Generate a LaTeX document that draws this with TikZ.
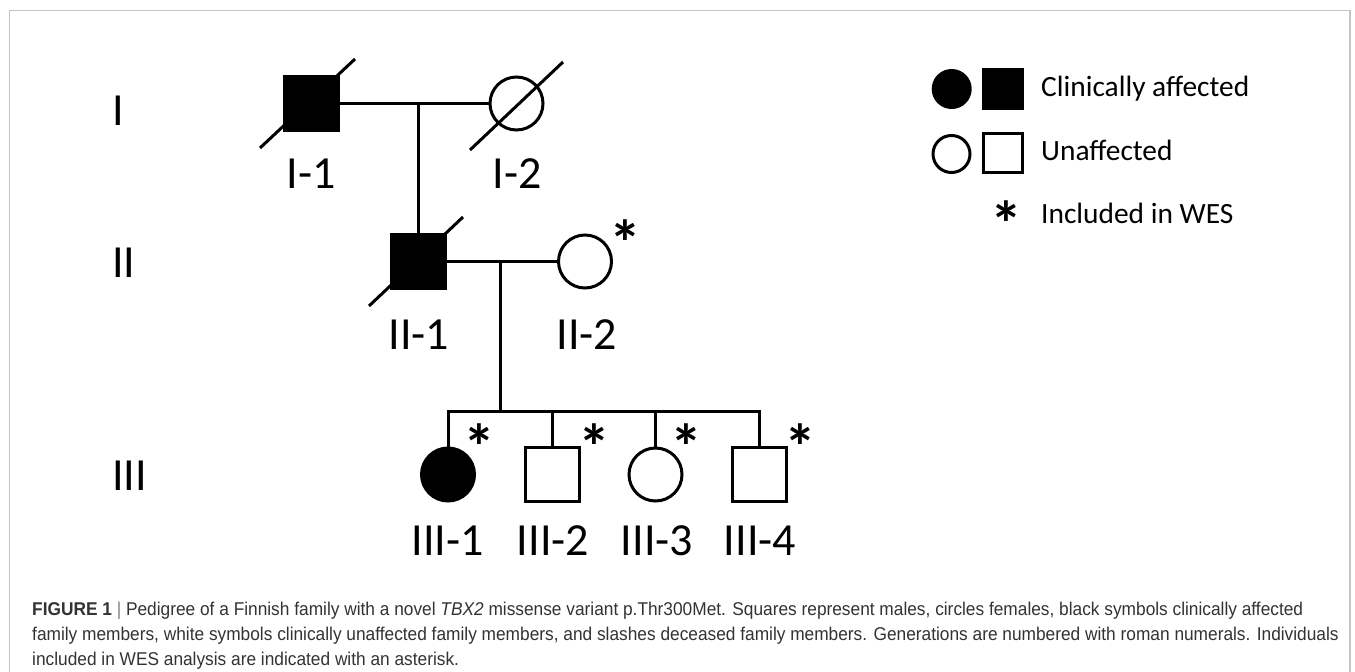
\documentclass[tikz,border=0pt]{standalone}
\usepackage{fontspec}
\setmainfont{Carlito}
\newfontfamily\capfont{Liberation Sans}
\usetikzlibrary{calc}
\definecolor{framec}{HTML}{C4C4C4}
\definecolor{capc}{HTML}{333333}
\newsavebox\caplinebox
\newlength\caplinewd
\begin{document}
\sbox\caplinebox{\capfont\fontsize{18.5}{18.5}\selectfont\textbf{FIGURE 1} | Pedigree of a Finnish family with a novel \textit{TBX2} missense variant p.Thr300Met. Squares represent males, circles females, black symbols clinically affected}%
\setlength\caplinewd{\wd\caplinebox}%
\pgfmathsetmacro\capsc{1271/\caplinewd}%
\begin{tikzpicture}[x=1pt,y=-1pt,
  ln/.style={line width=3pt},
  male/.style={draw, line width=3pt, rectangle, minimum size=54pt, inner sep=0pt},
  female/.style={draw, line width=3pt, circle, minimum size=53pt, inner sep=0pt},
  lmale/.style={draw, line width=3pt, rectangle, minimum size=39pt, inner sep=0pt},
  lfemale/.style={draw, line width=3pt, circle, minimum size=37pt, inner sep=0pt},
  aff/.style={fill=black},
  lab/.style={font=\fontsize{46}{46}\selectfont, anchor=base, inner sep=0pt},
  gen/.style={font=\fontsize{46}{46}\selectfont, anchor=base west, inner sep=0pt},
  ast/.style={font=\fontsize{64}{64}\selectfont\bfseries, anchor=base, inner sep=0pt},
  leg/.style={font=\fontsize{29.4}{29.4}\selectfont, anchor=base west, inner sep=0pt},
  capt/.style={font=\capfont\fontsize{18.5}{18.5}\selectfont, text=capc, anchor=base west, inner sep=0pt}]
\useasboundingbox (0,0) rectangle (1355,672);
\fill[white] (0,0) rectangle (1355,672);
\draw[framec, line width=1.5pt] (9.5,690) -- (9.5,10.5) -- (1350,10.5) -- (1350,690);

% individuals
\node[male,aff] (I1) at (311.5,103.5) {};
\node[female] (I2) at (516.5,103.5) {};
\node[male,aff] (II1) at (418.5,261.5) {};
\node[female] (II2) at (585,261.5) {};
\node[female,aff] (III1) at (448,474.5) {};
\node[male] (III2) at (552,474.5) {};
\node[female] (III3) at (655.5,474.5) {};
\node[male] (III4) at (759,474.5) {};

% deceased slashes
\draw[ln] ($(I1)+(-51.5,44.5)$) -- ($(I1)+(43.5,-44.5)$);
\draw[ln] ($(I2)+(-46.5,46.5)$) -- ($(I2)+(46.5,-41.5)$);
\draw[ln] ($(II1)+(-49.5,44.5)$) -- ($(II1)+(44.5,-44.5)$);

% connectors
\draw[ln] (I1.east) -- (I2.west);
\coordinate (m1) at (II1.north |- I1.east);
\draw[ln] (m1) -- (II1.north);
\draw[ln] (II1.east) -- (II2.west);
\coordinate (m2) at (500,261.5);
\coordinate (s) at (500,411);
\draw[ln] (m2) -- (s);
\draw[ln] (III1.north) -- (III1.north |- s) -- (III4.north |- s) -- (III4.north);
\draw[ln] (III2.north |- s) -- (III2.north);
\draw[ln] (III3.north |- s) -- (III3.north);

% labels
\node[lab] (lI1) at (311,188) {I-1};
\node[lab] (lI2) at (517,188) {I-2};
\node[lab] (lII1) at (419,349) {II-1};
\node[lab] (lII2) at (587,349) {II-2};
\node[lab] (lIII1) at (447.5,555) {III-1};
\node[lab] (lIII2) at (553,555) {III-2};
\node[lab] (lIII3) at (657,555) {III-3};
\node[lab] (lIII4) at (760,555) {III-4};

% generations
\node[gen] (gI) at (112,125) {I};
\node[gen] (gII) at (112,277) {II};
\node[gen] (gIII) at (112,490) {III};

% asterisks
\node[ast] (aII2) at (625.5,265) {*};
\node[ast] (aIII1) at (479,469) {*};
\node[ast] (aIII2) at (594,469) {*};
\node[ast] (aIII3) at (686,469) {*};
\node[ast] (aIII4) at (800,469) {*};

% legend
\node[lfemale,aff] (lgFa) at (951.7,89) {};
\node[lmale,aff] (lgMa) at (1003,89) {};
\node[lfemale] (lgFu) at (951.5,154) {};
\node[lmale] (lgMu) at (1003,152.5) {};
\node[leg] (tA) at (1041,96.7) {Clinically affected};
\node[leg] (tU) at (1041,160) {Unaffected};
\node[ast] (lgS) at (1006.5,246.5) {*};
\node[leg] (tW) at (1041,223) {Included in WES};

% caption
\node[capt] (c1) at (32,615) {\scalebox{\capsc}[1]{\textbf{FIGURE 1} {\color{gray}|} Pedigree of a Finnish family with a novel \textit{TBX2} missense variant p.Thr300Met. Squares represent males, circles females, black symbols clinically affected}};
\node[capt] (c2) at (32,640) {\scalebox{\capsc}[1]{family members, white symbols clinically unaffected family members, and slashes deceased family members. Generations are numbered with roman numerals. Individuals}};
\node[capt] (c3) at (32,665) {\scalebox{\capsc}[1]{included in WES analysis are indicated with an asterisk.}};
\end{tikzpicture}
\end{document}
